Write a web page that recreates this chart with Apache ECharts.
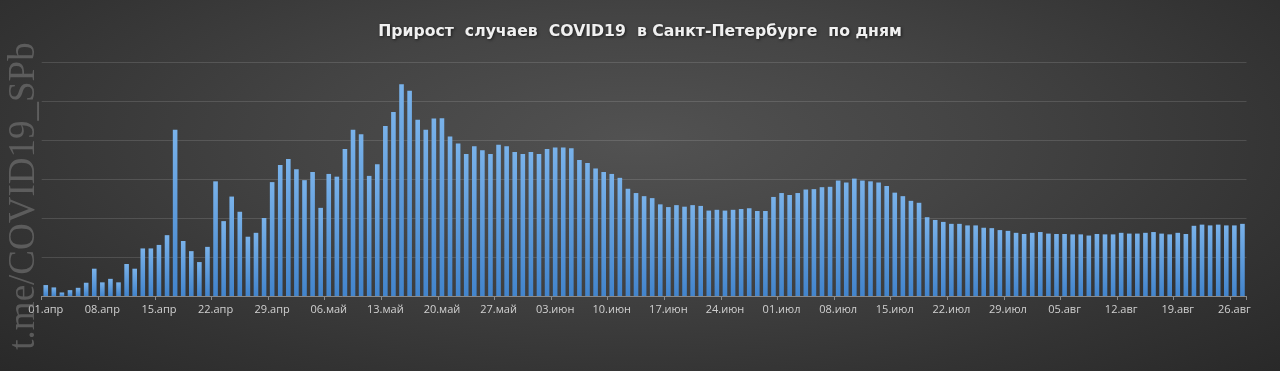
<!DOCTYPE html>
<html>
<head>
<meta charset="utf-8">
<script src="https://cdn.jsdelivr.net/npm/echarts@6/dist/echarts.min.js"></script>
<style>
html,body{margin:0;padding:0;}
#chart{width:1280px;height:371px;background:radial-gradient(ellipse 75% 95% at 50% 38%, #525252 0%, #444444 35%, #333333 70%, #262626 100%);}
</style>
</head>
<body>
<div id="chart"></div>
<script>
const monthNames = ['апр', 'май', 'июн', 'июл', 'авг'];
const aprValues = [28, 22, 9, 15, 21, 34, 70, 35, 44, 35, 82, 70, 122, 122, 131, 156, 426, 141, 115, 87, 126, 294, 192, 255, 216, 152, 162, 200, 292, 336];
const mayValues = [351, 325, 297, 318, 226, 313, 306, 377, 426, 415, 308, 338, 436, 472, 543, 526, 452, 426, 455, 456, 409, 391, 364, 384, 374, 364, 388, 384, 369, 364, 369];
const junValues = [364, 377, 381, 381, 379, 349, 341, 327, 318, 313, 303, 275, 264, 256, 251, 235, 228, 233, 229, 233, 231, 219, 221, 219, 221, 223, 225, 218, 218, 254];
const julValues = [264, 259, 264, 273, 274, 279, 280, 296, 291, 301, 296, 294, 291, 282, 265, 256, 244, 239, 202, 195, 190, 185, 185, 181, 181, 175, 174, 169, 167, 162, 159];
const augValues = [162, 164, 160, 159, 159, 158, 158, 155, 159, 158, 158, 162, 160, 160, 162, 164, 160, 158, 162, 159, 180, 183, 181, 183, 181, 181, 185];
const titleText = 'Прирост  случаев  COVID19  в Санкт-Петербурге  по дням';
const watermarkText = 't.me/COVID19_SPb';

const monthValues = [aprValues, mayValues, junValues, julValues, augValues];
const categories = [];
const values = [];
monthValues.forEach((arr, m) => {
  arr.forEach((v, d) => {
    categories.push(String(d + 1).padStart(2, '0') + '.' + monthNames[m]);
    values.push(v);
  });
});

const chart = echarts.init(document.getElementById('chart'), null, {renderer: 'canvas'});
chart.setOption({
  backgroundColor: 'transparent',
  animation: false,
  title: {
    text: titleText,
    left: 'center',
    top: 19,
    textStyle: {
      fontFamily: 'DejaVu Sans',
      fontSize: 15.7,
      fontWeight: 'bold',
      color: '#f0f0f0',
      textShadowColor: 'rgba(0,0,0,0.6)',
      textShadowBlur: 3,
      textShadowOffsetX: 1,
      textShadowOffsetY: 1
    }
  },
  grid: {left: 41.7, right: 33.5, top: 62, bottom: 75, containLabel: false},
  xAxis: {
    type: 'category',
    data: categories,
    boundaryGap: true,
    axisLine: {lineStyle: {color: '#8a8a8a', width: 1}},
    axisTick: {show: true, interval: 6, length: 4, lineStyle: {color: '#8a8a8a'}},
    axisLabel: {interval: 6, color: '#d0d0d0', fontSize: 11, fontFamily: 'Open Sans', margin: 8},
    splitLine: {show: false}
  },
  yAxis: {
    type: 'value',
    min: 0,
    max: 600,
    interval: 100,
    axisLabel: {show: false},
    axisLine: {show: false},
    axisTick: {show: false},
    splitLine: {lineStyle: {color: 'rgba(255,255,255,0.13)', width: 1}}
  },
  series: [{
    type: 'bar',
    data: values,
    barWidth: '57%',
    itemStyle: {
      color: new echarts.graphic.LinearGradient(0, 0, 0, 1, [
        {offset: 0, color: '#79b2ea'},
        {offset: 1, color: '#4284cc'}
      ])
    }
  }],
  graphic: [{
    type: 'text',
    x: 24,
    y: 196,
    rotation: Math.PI / 2,
    z: 100,
    style: {
      text: watermarkText,
      fontFamily: 'Liberation Serif',
      fontSize: 37,
      fill: 'rgba(120,120,120,0.6)',
      align: 'center',
      verticalAlign: 'middle'
    }
  }]
});
</script>
</body>
</html>
